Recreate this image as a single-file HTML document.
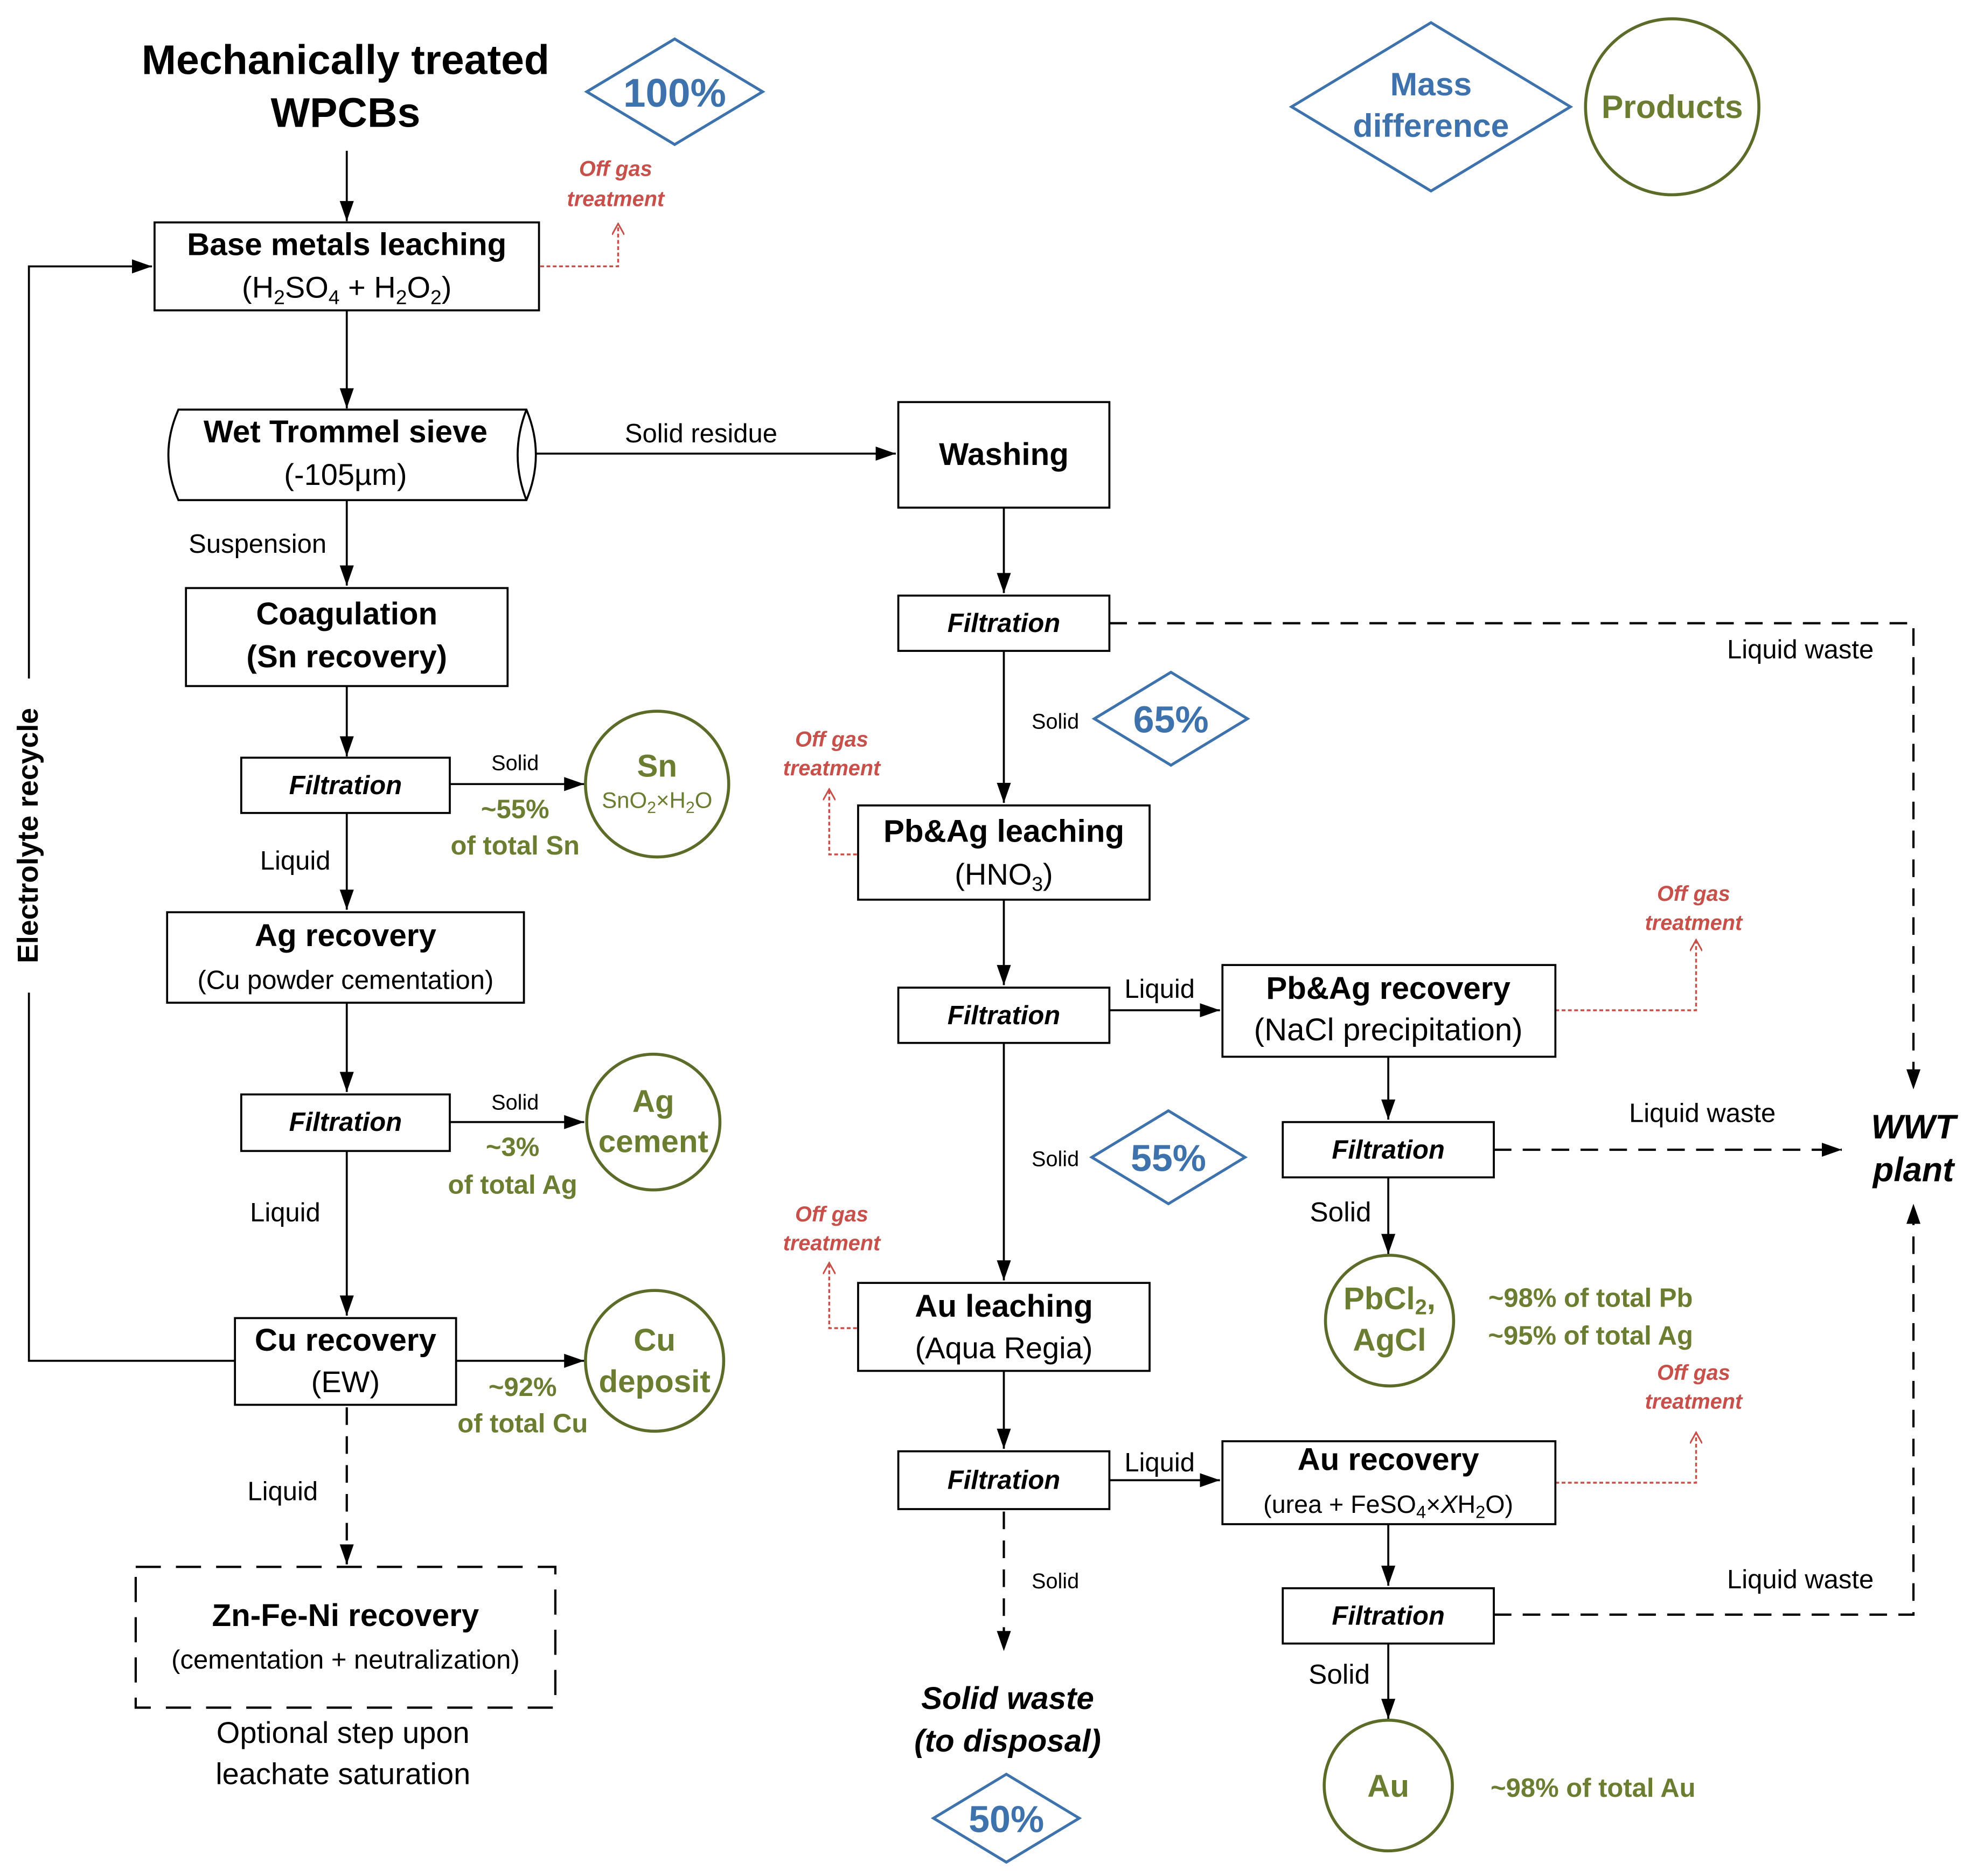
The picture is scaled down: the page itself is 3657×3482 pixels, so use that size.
<!DOCTYPE html>
<html><head><meta charset="utf-8">
<style>
html,body{margin:0;padding:0;background:#fff;}
svg{display:block;}
text{font-family:"Liberation Sans",Arial,sans-serif;}
.b{font-weight:bold;}
.bi{font-weight:bold;font-style:italic;}
.blue{fill:#3d72ad;font-weight:bold;}
.ol{fill:#6b7d30;font-weight:bold;}
.red{fill:#c8504a;font-weight:bold;font-style:italic;font-size:17px;}
.box{fill:#fff;stroke:#000;stroke-width:1.6;}
.ln{stroke:#000;stroke-width:1.6;fill:none;}
.dash{stroke:#000;stroke-width:1.8;fill:none;stroke-dasharray:14,9;}
.dot{stroke:#c8504a;stroke-width:1.5;fill:none;stroke-dasharray:3,2;}
.dia{fill:#fff;stroke:#3d72ad;stroke-width:2.2;}
.cir{fill:#fff;stroke:#5b6b28;stroke-width:2.4;}
</style></head>
<body>
<svg width="3657" height="3482" viewBox="0 0 1568 1493" xmlns="http://www.w3.org/2000/svg">
<defs>
<marker id="a" viewBox="0 0 10 10" refX="10" refY="5" markerWidth="16" markerHeight="16" markerUnits="userSpaceOnUse" orient="auto">
<path d="M0,1.5 L10,5 L0,8.5 z" fill="#000"/></marker>
<marker id="ar" viewBox="0 0 10 10" refX="9" refY="5" markerWidth="10" markerHeight="10" markerUnits="userSpaceOnUse" orient="auto">
<path d="M0,0 L9,5 L0,10" fill="none" stroke="#c8504a" stroke-width="1.3"/></marker>
</defs>

<!-- top title -->
<text x="275" y="59" text-anchor="middle" class="b" font-size="33">Mechanically treated</text>
<text x="275" y="101" text-anchor="middle" class="b" font-size="33">WPCBs</text>
<polygon class="dia" points="467,73 537,31 607,73 537,115"/>
<text x="537" y="85" text-anchor="middle" class="blue" font-size="32">100%</text>

<polygon class="dia" points="1028,85 1139,18 1250,85 1139,152"/>
<text x="1139" y="76" text-anchor="middle" class="blue" font-size="26">Mass</text>
<text x="1139" y="109" text-anchor="middle" class="blue" font-size="26">difference</text>
<ellipse class="cir" cx="1331" cy="85" rx="69" ry="70"/>
<text x="1331" y="94" text-anchor="middle" class="ol" font-size="26">Products</text>

<!-- arrows (solid) -->
<g class="ln">
<line x1="276" y1="120" x2="276" y2="176" marker-end="url(#a)"/>
<line x1="276" y1="247" x2="276" y2="325" marker-end="url(#a)"/>
<polyline points="187,1083 23,1083 23,212 121,212" marker-end="url(#a)"/>
<line x1="427" y1="361" x2="713" y2="361" marker-end="url(#a)"/>
<line x1="276" y1="398" x2="276" y2="466" marker-end="url(#a)"/>
<line x1="276" y1="546" x2="276" y2="602" marker-end="url(#a)"/>
<line x1="358" y1="624" x2="465" y2="624" marker-end="url(#a)"/>
<line x1="276" y1="647" x2="276" y2="724" marker-end="url(#a)"/>
<line x1="276" y1="798" x2="276" y2="869" marker-end="url(#a)"/>
<line x1="358" y1="893" x2="465" y2="893" marker-end="url(#a)"/>
<line x1="276" y1="916" x2="276" y2="1047" marker-end="url(#a)"/>
<line x1="363" y1="1083" x2="465" y2="1083" marker-end="url(#a)"/>
<line x1="799" y1="404" x2="799" y2="472" marker-end="url(#a)"/>
<line x1="799" y1="518" x2="799" y2="639" marker-end="url(#a)"/>
<line x1="799" y1="716" x2="799" y2="784" marker-end="url(#a)"/>
<line x1="883" y1="804" x2="971" y2="804" marker-end="url(#a)"/>
<line x1="1105" y1="841" x2="1105" y2="891" marker-end="url(#a)"/>
<line x1="1105" y1="937" x2="1105" y2="998" marker-end="url(#a)"/>
<line x1="799" y1="830" x2="799" y2="1019" marker-end="url(#a)"/>
<line x1="799" y1="1091" x2="799" y2="1153" marker-end="url(#a)"/>
<line x1="883" y1="1178" x2="971" y2="1178" marker-end="url(#a)"/>
<line x1="1105" y1="1213" x2="1105" y2="1262" marker-end="url(#a)"/>
<line x1="1105" y1="1308" x2="1105" y2="1368" marker-end="url(#a)"/>
</g>
<rect x="8" y="540" width="30" height="250" fill="#fff"/>
<text x="22" y="665" text-anchor="middle" class="b" font-size="23" transform="rotate(-90 22 665)" dy="8">Electrolyte recycle</text>
<!-- dashed -->
<g class="dash">
<line x1="276" y1="1120" x2="276" y2="1245" marker-end="url(#a)"/>
<polyline points="883,496 1523,496 1523,867" marker-end="url(#a)"/>
<line x1="1189" y1="915" x2="1466" y2="915" marker-end="url(#a)"/>
<polyline points="1189,1285 1523,1285 1523,958" marker-end="url(#a)"/>
<line x1="799" y1="1203" x2="799" y2="1314" marker-end="url(#a)"/>
</g>
<!-- off gas dotted -->
<g class="dot">
<polyline points="430,212 492,212 492,178" marker-end="url(#ar)"/>
<polyline points="682,680 660,680 660,628" marker-end="url(#ar)"/>
<polyline points="1238,804 1350,804 1350,748" marker-end="url(#ar)"/>
<polyline points="682,1057 660,1057 660,1005" marker-end="url(#ar)"/>
<polyline points="1238,1180 1350,1180 1350,1140" marker-end="url(#ar)"/>
</g>
<text x="490" y="140" text-anchor="middle" class="red">Off gas</text>
<text x="490" y="164" text-anchor="middle" class="red">treatment</text>
<text x="662" y="594" text-anchor="middle" class="red">Off gas</text>
<text x="662" y="617" text-anchor="middle" class="red">treatment</text>
<text x="1348" y="717" text-anchor="middle" class="red">Off gas</text>
<text x="1348" y="740" text-anchor="middle" class="red">treatment</text>
<text x="662" y="972" text-anchor="middle" class="red">Off gas</text>
<text x="662" y="995" text-anchor="middle" class="red">treatment</text>
<text x="1348" y="1098" text-anchor="middle" class="red">Off gas</text>
<text x="1348" y="1121" text-anchor="middle" class="red">treatment</text>

<!-- left column -->
<rect class="box" x="123" y="177" width="306" height="70"/>
<text x="276" y="203" text-anchor="middle" class="b" font-size="25">Base metals leaching</text>
<text x="276" y="237" text-anchor="middle" font-size="24">(H<tspan font-size="16" dy="5">2</tspan><tspan dy="-5">SO</tspan><tspan font-size="16" dy="5">4</tspan><tspan dy="-5"> + H</tspan><tspan font-size="16" dy="5">2</tspan><tspan dy="-5">O</tspan><tspan font-size="16" dy="5">2</tspan><tspan dy="-5">)</tspan></text>

<path class="box" d="M142,326 L419,326 Q434,362 419,398 L142,398 Q126,362 142,326 Z"/>
<path class="ln" d="M419,326 Q405,362 419,398"/>
<text x="275" y="352" text-anchor="middle" class="b" font-size="25">Wet Trommel sieve</text>
<text x="275" y="386" text-anchor="middle" font-size="24">(-105µm)</text>
<text x="558" y="352" text-anchor="middle" font-size="21">Solid residue</text>
<text x="205" y="440" text-anchor="middle" font-size="21">Suspension</text>

<rect class="box" x="148" y="468" width="256" height="78"/>
<text x="276" y="497" text-anchor="middle" class="b" font-size="25">Coagulation</text>
<text x="276" y="531" text-anchor="middle" font-size="25" font-weight="bold">(Sn recovery)</text>

<rect class="box" x="192" y="603" width="166" height="44"/>
<text x="275" y="632" text-anchor="middle" class="bi" font-size="21">Filtration</text>
<text x="410" y="613" text-anchor="middle" font-size="17">Solid</text>
<ellipse class="cir" cx="523" cy="624" rx="57" ry="58"/>
<text x="523" y="618" text-anchor="middle" class="ol" font-size="25">Sn</text>
<text x="523" y="643" text-anchor="middle" fill="#6b7d30" font-size="18">SnO<tspan font-size="13" dy="4">2</tspan><tspan dy="-4">×H</tspan><tspan font-size="13" dy="4">2</tspan><tspan dy="-4">O</tspan></text>
<text x="410" y="651" text-anchor="middle" class="ol" font-size="21">~55%</text>
<text x="410" y="680" text-anchor="middle" class="ol" font-size="21">of total Sn</text>
<text x="235" y="692" text-anchor="middle" font-size="21">Liquid</text>

<rect class="box" x="133" y="726" width="284" height="72"/>
<text x="275" y="753" text-anchor="middle" class="b" font-size="25">Ag recovery</text>
<text x="275" y="787" text-anchor="middle" font-size="21">(Cu powder cementation)</text>

<rect class="box" x="192" y="871" width="166" height="45"/>
<text x="275" y="900" text-anchor="middle" class="bi" font-size="21">Filtration</text>
<text x="410" y="883" text-anchor="middle" font-size="17">Solid</text>
<ellipse class="cir" cx="520" cy="893" rx="53" ry="54"/>
<text x="520" y="885" text-anchor="middle" class="ol" font-size="25">Ag</text>
<text x="520" y="917" text-anchor="middle" class="ol" font-size="25">cement</text>
<text x="408" y="920" text-anchor="middle" class="ol" font-size="21">~3%</text>
<text x="408" y="950" text-anchor="middle" class="ol" font-size="21">of total Ag</text>
<text x="227" y="972" text-anchor="middle" font-size="21">Liquid</text>

<rect class="box" x="187" y="1049" width="176" height="69"/>
<text x="275" y="1075" text-anchor="middle" class="b" font-size="25">Cu recovery</text>
<text x="275" y="1108" text-anchor="middle" font-size="24">(EW)</text>
<ellipse class="cir" cx="521" cy="1083" rx="55" ry="56"/>
<text x="521" y="1075" text-anchor="middle" class="ol" font-size="25">Cu</text>
<text x="521" y="1108" text-anchor="middle" class="ol" font-size="25">deposit</text>
<text x="416" y="1111" text-anchor="middle" class="ol" font-size="21">~92%</text>
<text x="416" y="1140" text-anchor="middle" class="ol" font-size="21">of total Cu</text>
<text x="225" y="1194" text-anchor="middle" font-size="21">Liquid</text>

<rect x="108" y="1247" width="334" height="112" fill="none" stroke="#000" stroke-width="1.8" stroke-dasharray="20,12"/>
<text x="275" y="1294" text-anchor="middle" class="b" font-size="25">Zn-Fe-Ni recovery</text>
<text x="275" y="1328" text-anchor="middle" font-size="21">(cementation + neutralization)</text>
<text x="273" y="1387" text-anchor="middle" font-size="24">Optional step upon</text>
<text x="273" y="1420" text-anchor="middle" font-size="24">leachate saturation</text>

<!-- middle column -->
<rect class="box" x="715" y="320" width="168" height="84"/>
<text x="799" y="370" text-anchor="middle" class="b" font-size="25">Washing</text>
<rect class="box" x="715" y="474" width="168" height="44"/>
<text x="799" y="503" text-anchor="middle" class="bi" font-size="21">Filtration</text>
<text x="1433" y="524" text-anchor="middle" font-size="21">Liquid waste</text>
<text x="840" y="580" text-anchor="middle" font-size="17">Solid</text>
<polygon class="dia" points="871,572 932,535 993,572 932,609"/>
<text x="932" y="583" text-anchor="middle" class="blue" font-size="30">65%</text>

<rect class="box" x="683" y="641" width="232" height="75"/>
<text x="799" y="670" text-anchor="middle" class="b" font-size="25">Pb&amp;Ag leaching</text>
<text x="799" y="704" text-anchor="middle" font-size="24">(HNO<tspan font-size="16" dy="5">3</tspan><tspan dy="-5">)</tspan></text>

<rect class="box" x="715" y="786" width="168" height="44"/>
<text x="799" y="815" text-anchor="middle" class="bi" font-size="21">Filtration</text>
<text x="923" y="794" text-anchor="middle" font-size="21">Liquid</text>
<rect class="box" x="973" y="768" width="265" height="73"/>
<text x="1105" y="795" text-anchor="middle" class="b" font-size="25">Pb&amp;Ag recovery</text>
<text x="1105" y="828" text-anchor="middle" font-size="25">(NaCl precipitation)</text>

<rect class="box" x="1021" y="893" width="168" height="44"/>
<text x="1105" y="922" text-anchor="middle" class="bi" font-size="21">Filtration</text>
<text x="1355" y="893" text-anchor="middle" font-size="21">Liquid waste</text>
<text x="1523" y="906" text-anchor="middle" class="bi" font-size="27">WWT</text>
<text x="1523" y="940" text-anchor="middle" class="bi" font-size="27">plant</text>
<text x="1067" y="972" text-anchor="middle" font-size="22">Solid</text>
<ellipse class="cir" cx="1106" cy="1051" rx="51" ry="52"/>
<text x="1106" y="1042" text-anchor="middle" class="ol" font-size="25">PbCl<tspan font-size="17" dy="4">2</tspan><tspan dy="-4">,</tspan></text>
<text x="1106" y="1075" text-anchor="middle" class="ol" font-size="25">AgCl</text>
<text x="1266" y="1040" text-anchor="middle" class="ol" font-size="21">~98% of total Pb</text>
<text x="1266" y="1070" text-anchor="middle" class="ol" font-size="21">~95% of total Ag</text>

<text x="840" y="928" text-anchor="middle" font-size="17">Solid</text>
<polygon class="dia" points="869,921 930,884 991,921 930,958"/>
<text x="930" y="932" text-anchor="middle" class="blue" font-size="30">55%</text>

<rect class="box" x="683" y="1021" width="232" height="70"/>
<text x="799" y="1048" text-anchor="middle" class="b" font-size="25">Au leaching</text>
<text x="799" y="1081" text-anchor="middle" font-size="24">(Aqua Regia)</text>

<rect class="box" x="715" y="1155" width="168" height="46"/>
<text x="799" y="1185" text-anchor="middle" class="bi" font-size="21">Filtration</text>
<text x="923" y="1171" text-anchor="middle" font-size="21">Liquid</text>
<rect class="box" x="973" y="1147" width="265" height="66"/>
<text x="1105" y="1170" text-anchor="middle" class="b" font-size="25">Au recovery</text>
<text x="1105" y="1204" text-anchor="middle" font-size="20">(urea + FeSO<tspan font-size="14" dy="4">4</tspan><tspan dy="-4">×</tspan><tspan font-style="italic">X</tspan>H<tspan font-size="14" dy="4">2</tspan><tspan dy="-4">O)</tspan></text>

<text x="1433" y="1264" text-anchor="middle" font-size="21">Liquid waste</text>
<rect class="box" x="1021" y="1264" width="168" height="44"/>
<text x="1105" y="1293" text-anchor="middle" class="bi" font-size="21">Filtration</text>
<text x="1066" y="1340" text-anchor="middle" font-size="22">Solid</text>
<ellipse class="cir" cx="1105" cy="1421" rx="51" ry="52"/>
<text x="1105" y="1430" text-anchor="middle" class="ol" font-size="25">Au</text>
<text x="1268" y="1430" text-anchor="middle" class="ol" font-size="21">~98% of total Au</text>

<text x="840" y="1264" text-anchor="middle" font-size="17">Solid</text>
<text x="802" y="1360" text-anchor="middle" class="bi" font-size="25">Solid waste</text>
<text x="802" y="1394" text-anchor="middle" class="bi" font-size="25">(to disposal)</text>
<polygon class="dia" points="743,1447 801,1412 859,1447 801,1482"/>
<text x="801" y="1458" text-anchor="middle" class="blue" font-size="30">50%</text>
</svg>
</body></html>
